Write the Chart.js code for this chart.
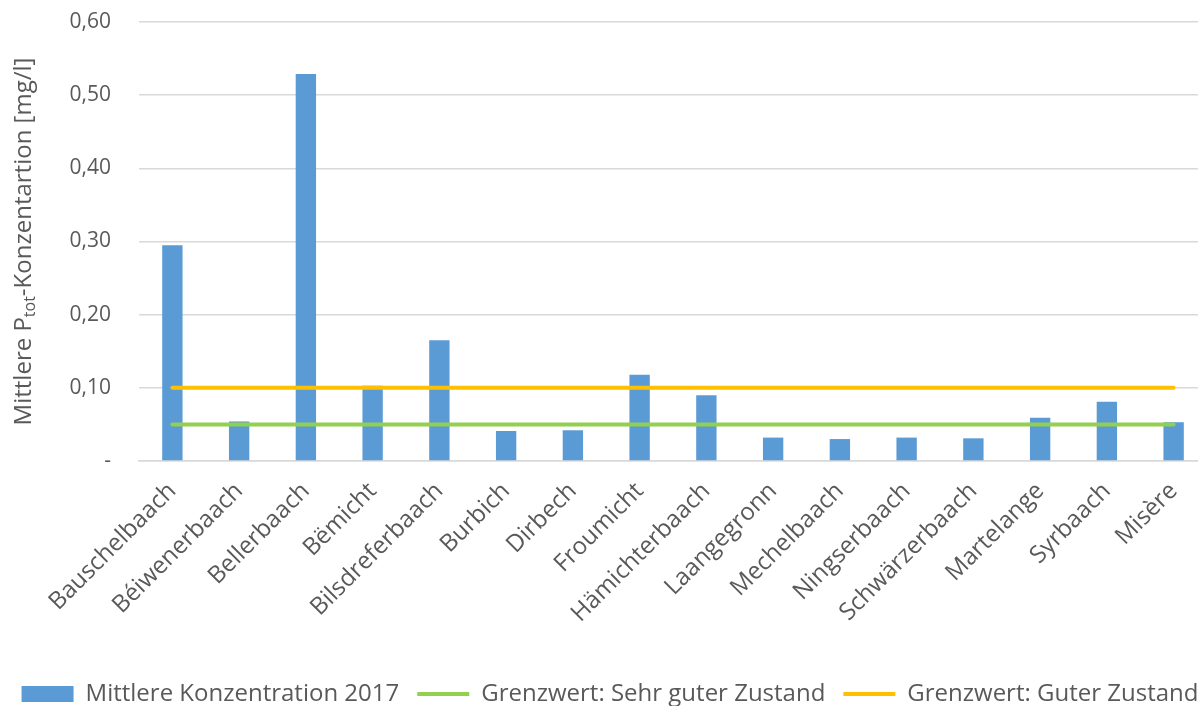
<!DOCTYPE html>
<html>
<head>
<meta charset="utf-8">
<script src="https://cdn.jsdelivr.net/npm/chart.js@4"></script>
<style>
  html, body { margin: 0; padding: 0; background: #fff; overflow: hidden; }
  #wrap { position: relative; width: 1220px; height: 716px; }
</style>
</head>
<body>
<div id="wrap"><canvas id="phosphorChart"></canvas></div>
<script>
const categories = ['Bauschelbaach', 'Béiwenerbaach', 'Bellerbaach', 'Bëmicht', 'Bilsdreferbaach',
  'Burbich', 'Dirbech', 'Froumicht', 'Hämichterbaach', 'Laangegronn', 'Mechelbaach',
  'Ningserbaach', 'Schwärzerbaach', 'Martelange', 'Syrbaach', 'Misère'];
const concentration2017 = [0.295, 0.054, 0.529, 0.103, 0.165, 0.041, 0.042, 0.118,
  0.090, 0.032, 0.030, 0.032, 0.031, 0.059, 0.081, 0.053];
const limitVeryGood = categories.map(() => 0.05);
const limitGood = categories.map(() => 0.10);
const yTicks = [0, 0.1, 0.2, 0.3, 0.4, 0.5, 0.6];

const FONT = '"Open Sans"';
const TEXT = '#595959';

// y axis title with subscript "tot"
const axisTitle = {
  id: 'axisTitle',
  afterDraw(chart) {
    const ctx = chart.ctx;
    const area = chart.chartArea;
    const parts = [
      { t: 'Mittlere P', size: 24, dy: 0 },
      { t: 'tot', size: 16, dy: 6 },
      { t: '-Konzentartion [mg/l]', size: 24, dy: 0 }
    ];
    ctx.save();
    let total = 0;
    parts.forEach(p => { ctx.font = p.size + 'px ' + FONT; p.w = ctx.measureText(p.t).width; total += p.w; });
    ctx.translate(24, (area.top + area.bottom) / 2);
    ctx.rotate(-Math.PI / 2);
    ctx.fillStyle = TEXT;
    ctx.textBaseline = 'middle';
    let x = -total / 2;
    parts.forEach(p => {
      ctx.font = p.size + 'px ' + FONT;
      ctx.fillText(p.t, x, p.dy);
      x += p.w;
    });
    ctx.restore();
  }
};

new Chart(document.getElementById('phosphorChart'), {
  data: {
    labels: categories,
    datasets: [
      {
        type: 'bar',
        label: 'Mittlere Konzentration 2017',
        data: concentration2017,
        backgroundColor: '#5B9BD5',
        pointStyle: 'rect',
        barPercentage: 0.305,
        categoryPercentage: 1,
        order: 2
      },
      {
        type: 'line',
        label: 'Grenzwert: Sehr guter Zustand',
        data: limitVeryGood,
        borderColor: '#92D050',
        backgroundColor: '#92D050',
        borderWidth: 4,
        borderCapStyle: 'round',
        pointRadius: 0,
        pointStyle: 'line',
        order: 1
      },
      {
        type: 'line',
        label: 'Grenzwert: Guter Zustand',
        data: limitGood,
        borderColor: '#FFC000',
        backgroundColor: '#FFC000',
        borderWidth: 4,
        borderCapStyle: 'round',
        pointRadius: 0,
        pointStyle: 'line',
        order: 0
      }
    ]
  },
  options: {
    responsive: true,
    maintainAspectRatio: false,
    animation: false,
    layout: { padding: { top: 22, right: 0, left: 0, bottom: 0 } },
    plugins: {
      tooltip: { enabled: false },
      legend: {
        position: 'bottom',
        labels: {
          usePointStyle: true,
          pointStyleWidth: 52,
          boxHeight: 16,
          padding: 18,
          color: TEXT,
          font: { family: FONT, size: 24 },
          sort: (a, b) => a.datasetIndex - b.datasetIndex
        }
      }
    },
    scales: {
      x: {
        offset: true,
        grid: { display: false },
        border: { color: '#D9D9D9', width: 1.5 },
        ticks: {
          color: TEXT,
          font: { family: FONT, size: 24 },
          maxRotation: 45,
          minRotation: 45,
          autoSkip: false,
          padding: 8
        },
        afterFit(scale) { scale.height = 203; }
      },
      y: {
        min: 0,
        max: 0.6,
        afterBuildTicks(scale) { scale.ticks = yTicks.map(v => ({ value: v })); },
        grid: { color: '#D9D9D9', lineWidth: 1.5, drawTicks: false },
        border: { display: false },
        ticks: {
          color: TEXT,
          font: { family: FONT, size: 21 },
          padding: 28,
          callback: v => v === 0 ? '-' : v.toFixed(2).replace('.', ',')
        },
        afterFit(scale) {
          scale.width = 139;
          scale.paddingTop = 14;
          scale.paddingBottom = 14;
        }
      },
      // empty right-hand strip so the plot stops short of the canvas edge
      rightGap: {
        position: 'right',
        grid: { display: false },
        border: { display: false },
        ticks: { display: false },
        afterFit(scale) {
          scale.width = 13;
          scale.paddingTop = 0;
          scale.paddingBottom = 0;
        }
      }
    }
  },
  plugins: [axisTitle]
});
</script>
</body>
</html>
